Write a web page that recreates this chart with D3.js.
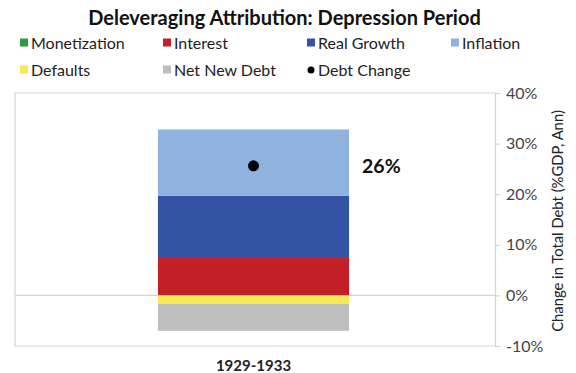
<!DOCTYPE html>
<html>
<head>
<meta charset="utf-8">
<script src="https://cdn.jsdelivr.net/npm/d3@7"></script>
<style>
  html, body { margin: 0; padding: 0; background: #fff; }
  svg { display: block; font-family: Lato, "Open Sans", sans-serif; }
</style>
</head>
<body>
<svg id="chart" width="576" height="373"></svg>
<script>
// ---- data ----
const categories = ["1929-1933"];
const seriesNames = ["Monetization", "Interest", "Real Growth", "Inflation", "Defaults", "Net New Debt"];
const seriesColors = ["#2f9a44", "#c21f26", "#3352a3", "#8fb2de", "#f5ea55", "#bfbebe"];
const seriesValues = [
  [0],      // Monetization
  [7.4],    // Interest
  [12.3],   // Real Growth
  [13.1],   // Inflation
  [-1.7],   // Defaults
  [-5.3]    // Net New Debt
];
const debtChange = [25.6];
const debtChangeLabels = ["26%"];
const yTicks = [-10, 0, 10, 20, 30, 40];
const title = "Deleveraging Attribution: Depression Period";
const yAxisTitle = "Change in Total Debt (%GDP, Ann)";

// ---- layout ----
const svg = d3.select("#chart");
const plot = { left: 15, right: 495, top: 93, bottom: 346 };
const lineColor = "#d8d2cd";

const y = d3.scaleLinear().domain([-10, 40]).range([plot.bottom, plot.top]);
const x = d3.scaleBand().domain(categories).range([12, plot.right]).paddingInner(0.433).paddingOuter(0.433);

// title
svg.append("text")
  .attr("x", 284.5).attr("y", 25)
  .attr("text-anchor", "middle")
  .attr("font-size", 20).attr("font-weight", "bold").attr("fill", "#111")
  .text(title);

// legend
const legendItems = seriesNames.map((n, i) => ({ name: n, color: seriesColors[i], type: "rect" }))
  .concat([{ name: "Debt Change", color: "#000", type: "dot" }]);
const legendPos = [
  [20, 43], [163, 43], [307, 43], [451, 43],
  [20, 70], [163, 70], [307, 70]
];
const lg = svg.append("g");
legendItems.forEach((d, i) => {
  const [lx, ly] = legendPos[i];
  const g = lg.append("g").attr("transform", `translate(${lx},${ly})`);
  if (d.type === "rect") {
    g.append("rect").attr("x", 0).attr("y", -4.5).attr("width", 8).attr("height", 8).attr("fill", d.color);
  } else {
    g.append("circle").attr("cx", 4).attr("cy", 0).attr("r", 3.5).attr("fill", d.color);
  }
  g.append("text").attr("x", 11).attr("y", 0).attr("dy", "0.35em")
    .attr("font-size", 16).attr("fill", "#222").text(d.name);
});

// plot frame (top, left, bottom)
svg.append("path")
  .attr("d", `M${plot.right},${plot.top}H${plot.left}V${plot.bottom}H${plot.right}`)
  .attr("fill", "none").attr("stroke", lineColor).attr("stroke-width", 1.2);

// zero line
svg.append("line")
  .attr("x1", plot.left).attr("x2", plot.right)
  .attr("y1", y(0)).attr("y2", y(0))
  .attr("stroke", lineColor).attr("stroke-width", 1.2);

// stacked bars
const stacks = categories.map((c, ci) => {
  let pos = 0, neg = 0;
  return seriesNames.map((n, si) => {
    const v = seriesValues[si][ci];
    let y0, y1;
    if (v >= 0) { y0 = pos; y1 = pos + v; pos = y1; }
    else { y0 = neg; y1 = neg + v; neg = y1; }
    return { cat: c, name: n, color: seriesColors[si], y0, y1, v };
  });
}).flat();

svg.append("g").selectAll("rect")
  .data(stacks.filter(d => d.v !== 0))
  .join("rect")
  .attr("x", d => x(d.cat))
  .attr("width", x.bandwidth())
  .attr("y", d => y(Math.max(d.y0, d.y1)))
  .attr("height", d => Math.abs(y(d.y0) - y(d.y1)))
  .attr("fill", d => d.color);

// debt change dots
svg.append("g").selectAll("circle")
  .data(categories)
  .join("circle")
  .attr("cx", c => x(c) + x.bandwidth() / 2)
  .attr("cy", (c, i) => y(debtChange[i]))
  .attr("r", 5.5)
  .attr("fill", "#000");

// debt change labels
svg.append("g").selectAll("text")
  .data(categories)
  .join("text")
  .attr("x", c => x(c) + x.bandwidth() + 13)
  .attr("y", (c, i) => y(debtChange[i]))
  .attr("dy", "0.35em")
  .attr("font-size", 19.5).attr("font-weight", "bold").attr("fill", "#111")
  .text((c, i) => debtChangeLabels[i]);

// right axis
const yAxis = d3.axisRight(y).tickValues(yTicks).tickFormat(d => d + "%").tickSize(5).tickPadding(6);
const ag = svg.append("g").attr("transform", `translate(${plot.right},0)`).call(yAxis);
ag.select(".domain").attr("stroke", lineColor).attr("stroke-width", 1.2);
ag.selectAll(".tick line").attr("stroke", lineColor).attr("stroke-width", 1.2);
ag.selectAll(".tick text").attr("font-size", 16).attr("fill", "#444").attr("font-family", "Lato, sans-serif");

// y axis title
svg.append("text")
  .attr("transform", `translate(563,221) rotate(-90)`)
  .attr("text-anchor", "middle")
  .attr("font-size", 14.8).attr("fill", "#222")
  .text(yAxisTitle);

// x axis labels
svg.append("g").selectAll("text")
  .data(categories)
  .join("text")
  .attr("x", c => x(c) + x.bandwidth() / 2)
  .attr("y", 371)
  .attr("text-anchor", "middle")
  .attr("font-size", 15).attr("font-weight", "bold").attr("fill", "#222")
  .text(c => c);
</script>
</body>
</html>
